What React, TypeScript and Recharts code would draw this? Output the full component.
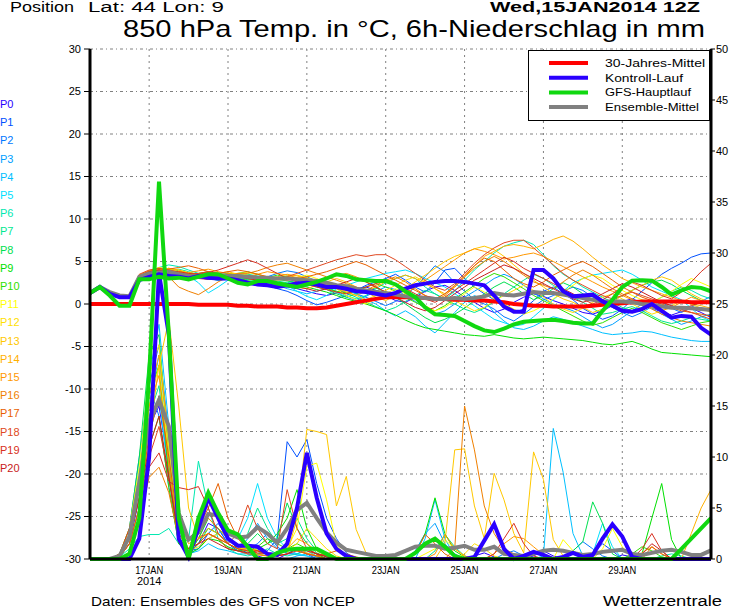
import { LineChart, Line, XAxis, YAxis, CartesianGrid } from "recharts"

const FONT = "'Liberation Sans', Arial, Helvetica, sans-serif"

// forecast hours from 15JAN2014 12Z, 6-hourly
const HOURS = [
  0, 6, 12, 18, 24, 30, 36, 42, 48, 54, 60, 66, 72, 78, 84, 90,
  96, 102, 108, 114, 120, 126, 132, 138, 144, 150, 156, 162, 168, 174, 180, 186,
  192, 198, 204, 210, 216, 222, 228, 234, 240, 246, 252, 258, 264, 270, 276, 282,
  288, 294, 300, 306, 312, 318, 324, 330, 336, 342, 348, 354, 360, 366, 372, 378
]

const DATE_TICKS = [36, 84, 132, 180, 228, 276, 324]
const DATE_LABELS = ["17JAN", "19JAN", "21JAN", "23JAN", "25JAN", "27JAN", "29JAN"]
const TEMP_TICKS = [-30, -25, -20, -15, -10, -5, 0, 5, 10, 15, 20, 25, 30]
const RAIN_TICKS = [0, 5, 10, 15, 20, 25, 30, 35, 40, 45, 50]

const MEMBER_NAMES = [
  "P0", "P1", "P2", "P3", "P4", "P5", "P6", "P7", "P8", "P9", "P10",
  "P11", "P12", "P13", "P14", "P15", "P16", "P17", "P18", "P19", "P20"
]
const MEMBER_COLORS = [
  "#2a00ff", "#0050ff", "#0078ff", "#00a0ff", "#00c0ff", "#00e0ff", "#00e8b0",
  "#00e890", "#00e050", "#00e000", "#30e000", "#ffff00", "#ffe000", "#ffc800",
  "#ffb000", "#ff9800", "#f08000", "#e86000", "#e04820", "#d83020", "#c82020"
]

const LEGEND_NAMES = ["30-Jahres-Mittel", "Kontroll-Lauf", "GFS-Hauptlauf", "Ensemble-Mittel"]
const LEGEND_COLORS = ["#ff0000", "#2a00ff", "#10d810", "#808080"]
const LEGEND_WIDTHS = [100, 78, 86, 94]

// 850 hPa temperature, degC
const climTemp = [
  0, 0, 0, 0, 0, 0, 0, 0, 0, 0, 0, -0.1, -0.1, -0.1, -0.1, -0.2,
  -0.2, -0.3, -0.3, -0.3, -0.4, -0.4, -0.5, -0.5, -0.4, -0.2, 0, 0.2, 0.4, 0.6, 0.8, 0.8,
  0.8, 0.8, 0.7, 0.6, 0.6, 0.5, 0.5, 0.4, 0.4, 0.3, 0.2, 0, -0.1, -0.2, -0.2, -0.3,
  -0.3, -0.3, -0.3, -0.2, -0.1, 0, 0.1, 0.2, 0.3, 0.3, 0.3, 0.3, 0.3, 0.2, 0.2, 0.2
]
const controlTemp = [
  1.3, 2.0, 1.2, 0.8, 0.8, 2.8, 3.2, 3.5, 3.3, 3.2, 3.0, 3.3, 3.1, 3.0, 3.0, 2.8,
  2.5, 2.3, 2.2, 2.0, 2.2, 2.4, 2.5, 2.3, 2.0, 2.0, 1.8, 1.5, 1.4, 1.2, 1.0, 1.3,
  1.8, 2.2, 2.4, 2.6, 2.7, 2.7, 2.6, 2.4, 2.2, 1.0, -0.3, -0.9, -0.9, 4.0, 4.0, 3.0,
  1.5, 0.9, 1.0, 1.1, 0.3, -0.2, -0.8, -0.9, -0.6, 0.0, -0.8, -1.6, -1.4, -1.5, -2.8, -3.6
]
const gfsTemp = [
  1.3, 2.0, 1.0, -0.2, -0.2, 2.9, 2.9, 3.2, 3.0, 3.1, 2.9, 3.2, 3.5, 3.5, 3.0, 2.5,
  2.3, 2.7, 2.7, 2.4, 2.2, 2.0, 2.3, 2.6, 3.0, 3.5, 3.3, 2.9, 2.8, 2.7, 2.7, 2.3,
  1.5, 0.8, -0.4, -1.2, -1.3, -1.4, -2.0, -2.6, -3.1, -3.3, -2.9, -2.4, -2.1, -2.0, -1.9, -1.85,
  -2.0, -2.2, -2.3, -2.3, -0.8, 0.5, 2.0, 2.75, 2.8, 2.75, 2.0, 1.1, 1.6, 2.0, 1.9, 1.5
]
const meanTemp = [
  1.3, 2.0, 1.4, 1.0, 0.9, 3.2, 3.6, 3.7, 3.8, 3.5, 3.3, 3.2, 3.4, 3.4, 3.3, 3.3,
  3.2, 3.1, 3.1, 3.0, 3.0, 2.9, 2.8, 2.7, 2.5, 2.2, 2.1, 1.8, 1.6, 1.4, 1.3, 1.1,
  0.9, 0.8, 0.7, 0.6, 0.6, 0.7, 0.6, 0.7, 0.9, 1.3, 1.1, 1.0, 1.2, 1.4, 1.3, 1.3,
  1.1, 0.9, 0.7, 0.5, 0.3, 0.3, 0.3, 0.2, 0.0, -0.1, -0.3, -0.45, -0.45, -0.5, -0.6, -0.7
]

const tempP0 = [
  1.3, 2.0, 1.2, 0.9, 0.9, 3.0, 3.4, 3.6, 3.5, 3.3, 3.1, 3.2, 3.0, 3.1, 3.0, 2.8,
  2.6, 2.5, 2.4, 2.2, 2.0, 1.8, 1.5, 1.2, 1.0, 1.3, 1.6, 1.8, 2.0, 1.6, 1.0, 0.4,
  0.2, 0.8, 1.5, 2.0, 2.2, 1.6, 0.8, 0.2, -0.5, -1.0, -0.6, 0.2, 0.8, 1.2, 0.9, 0.4,
  0.0, -0.5, -1.0, -1.2, -0.8, -0.2, 0.3, 0.6, 0.2, -0.4, -1.0, -1.3, -0.9, -0.5, -1.0, -1.6
]
const tempP1 = [
  1.3, 2.0, 1.1, 0.8, 0.8, 2.8, 3.3, 3.7, 3.6, 3.4, 3.3, 3.5, 3.3, 3.2, 3.1, 3.0,
  2.7, 2.5, 2.2, 1.8, 1.5, 1.0, 0.4, -0.1, 0.2, 0.6, 1.0, 1.6, 2.2, 2.6, 3.0, 3.5,
  2.8, 2.0, 1.4, 2.5, 4.0, 4.2, 3.0, 2.0, 1.2, 0.5, -0.4, -1.0, -0.6, 0.4, 1.5, 2.0,
  1.2, 0.5, -0.5, -1.2, -1.8, -1.4, -0.6, 0.5, 1.5, 2.5, 3.5, 4.2, 4.8, 5.5, 5.9, 6.0
]
const tempP2 = [
  1.3, 2.0, 1.2, 1.0, 1.0, 3.1, 3.6, 3.9, 3.7, 3.6, 3.4, 3.3, 3.4, 3.5, 3.3, 3.1,
  2.9, 3.0, 3.2, 3.6, 3.9, 3.7, 3.2, 2.7, 2.4, 2.0, 1.6, 1.2, 0.8, 0.3, -0.2, 0.3,
  1.0, 2.0, 3.2, 4.5, 3.8, 2.5, 1.5, 0.5, 0.0, -0.6, -1.5, -2.0, -1.2, -0.3, 0.5, 1.0,
  1.5, 2.0, 1.6, 0.8, 0.2, -0.4, -1.0, -1.5, -1.0, -0.3, 0.2, -0.5, -1.0, -0.4, 0.3, 0.9
]
const tempP3 = [
  1.3, 2.0, 1.3, 1.0, 1.0, 3.2, 3.5, 3.8, 3.9, 3.6, 3.3, 3.1, 2.9, 3.0, 3.2, 3.4,
  3.3, 3.0, 2.8, 2.5, 2.3, 2.6, 2.9, 2.5, 2.0, 1.4, 0.8, 0.4, 0.9, 1.5, 2.0, 1.7,
  1.0, 0.3, -0.5, -1.2, -0.8, 0.0, 0.8, 1.5, 2.2, 3.0, 3.5, 3.0, 2.2, 1.3, 0.6, 0.0,
  -0.4, -0.8, -1.5, -2.2, -2.8, -2.4, -1.6, -0.8, 0.0, -0.5, -1.2, -1.8, -2.4, -2.0, -1.5, -1.2
]
const tempP4 = [
  1.3, 2.0, 1.2, 0.9, 1.0, 3.0, 3.4, 3.5, 3.6, 3.5, 3.4, 3.2, 3.0, 2.8, 2.9, 3.1,
  3.0, 2.8, 2.5, 2.2, 1.8, 1.5, 1.2, 1.5, 1.8, 2.0, 1.7, 1.2, 0.5, 0.0, -0.8, -1.4,
  -0.8, -1.5, -2.6, -3.4, -2.2, -1.0, 0.2, 1.0, 0.4, -1.0, -2.0, -2.8, -3.0, -2.6, -2.0, -1.5,
  -1.8, -2.2, -2.6, -3.0, -3.4, -3.6, -3.5, -3.4, -3.2, -3.3, -3.6, -3.9, -4.1, -4.3, -4.4, -4.4
]
const tempP5 = [
  1.3, 2.0, 1.2, 1.0, 0.9, 3.1, 3.6, 3.9, 3.8, 3.6, 3.3, 2.5, 1.3, 2.0, 2.8, 3.2,
  3.4, 3.2, 3.0, 2.6, 2.2, 1.5, 0.9, 0.5, 1.0, 1.8, 2.2, 2.6, 3.0, 3.3, 3.6, 3.8,
  4.0, 3.6, 3.0, 2.5, 2.0, 1.2, 0.5, -0.2, -1.0, -1.8, -2.2, -2.6, -2.4, -1.5, -0.5, 0.5,
  1.5, 2.5, 3.0, 3.4, 3.6, 3.8, 4.0, 3.5, 2.8, 2.0, 1.5, 1.0, 0.5, -0.5, -1.5, -2.0
]
const tempP6 = [
  1.3, 2.0, 1.3, 1.0, 1.0, 3.2, 3.8, 4.3, 4.6, 4.4, 4.0, 3.6, 3.4, 3.5, 3.3, 3.1,
  2.9, 2.7, 2.9, 3.1, 3.3, 3.0, 2.6, 2.2, 2.0, 1.5, 1.0, 0.6, 1.0, 1.8, 2.5, 3.0,
  3.4, 3.0, 2.0, 1.2, 0.6, 1.5, 2.8, 4.0, 5.0, 6.0, 6.8, 7.2, 7.5, 7.0, 5.8, 4.5,
  3.5, 2.8, 2.0, 1.4, 0.8, 0.2, -0.4, -0.8, -0.4, 0.2, 0.8, 1.5, 2.0, 1.6, 1.0, 0.6
]
const tempP7 = [
  1.3, 2.0, 1.2, 0.9, 0.9, 3.0, 3.5, 3.8, 4.0, 4.1, 3.8, 3.4, 3.0, 2.8, 3.0, 3.4,
  3.5, 3.3, 3.0, 2.7, 2.5, 2.8, 3.0, 2.6, 2.2, 1.8, 1.3, 0.8, 0.2, -0.3, -0.8, -0.4,
  0.3, 1.0, 1.6, 1.2, 0.5, 0.0, -0.6, -1.0, -0.5, 0.3, 1.2, 2.0, 2.8, 3.5, 3.0, 2.2,
  1.5, 0.8, 0.2, -0.5, -1.2, -1.0, -0.6, -0.3, -0.8, -1.4, -2.0, -2.3, -2.0, -1.6, -1.8, -2.0
]
const tempP8 = [
  1.3, 2.0, 1.3, 1.0, 1.0, 3.2, 3.7, 4.0, 4.2, 3.9, 3.6, 3.4, 3.3, 3.2, 3.4, 3.6,
  3.8, 3.5, 3.1, 2.9, 2.7, 2.5, 2.3, 2.0, 1.7, 1.2, 0.8, 1.2, 1.6, 1.9, 1.4, 0.8,
  0.0, -0.8, -1.6, -2.2, -1.8, -1.2, -0.5, 0.4, 1.2, 2.0, 2.6, 2.0, 1.2, 0.5, 1.0, 1.8,
  2.5, 2.0, 1.2, 0.5, 0.0, 0.4, 1.0, 1.6, 2.2, 2.6, 2.8, 2.3, 1.6, 1.0, 0.4, 0.0
]
const tempP9 = [
  1.3, 2.0, 1.2, 1.0, 0.9, 3.0, 3.5, 3.7, 3.6, 3.5, 3.4, 3.3, 3.2, 3.4, 3.6, 3.5,
  3.2, 3.0, 2.8, 2.6, 2.4, 2.2, 2.0, 1.7, 1.4, 1.0, 0.6, 0.3, 0.0, -0.4, -0.8, -1.3,
  -1.9, -2.4, -2.8, -3.0, -3.2, -3.4, -3.6, -3.7, -3.8, -3.6, -3.8, -4.0, -4.1, -4.0, -3.9, -4.0,
  -4.1, -4.2, -4.3, -4.5, -4.7, -4.8, -4.6, -4.4, -4.8, -5.3, -5.7, -5.8, -5.9, -6.0, -6.1, -6.2
]
const tempP10 = [
  1.3, 2.0, 1.3, 1.0, 1.0, 3.3, 3.8, 4.2, 4.0, 3.7, 3.5, 3.6, 3.8, 3.6, 3.3, 3.0,
  2.8, 2.9, 3.1, 3.4, 3.2, 2.9, 2.5, 2.1, 1.8, 1.5, 1.3, 1.6, 2.0, 2.4, 2.0, 1.5,
  0.8, 0.2, -0.4, -0.8, -0.2, 0.6, 1.4, 2.2, 3.0, 3.6, 3.2, 2.5, 1.8, 1.0, 0.4, -0.2,
  -0.8, -1.4, -2.0, -2.5, -2.2, -1.6, -1.0, -0.5, -1.0, -1.6, -2.2, -2.6, -3.0, -2.6, -2.2, -2.0
]
const tempP11 = [
  1.3, 2.0, 1.2, 0.9, 0.9, 3.1, 3.6, 4.0, 4.2, 4.0, 3.7, 3.5, 3.3, 3.4, 3.5, 3.6,
  3.4, 3.2, 3.0, 2.8, 2.9, 3.1, 3.4, 3.0, 2.5, 1.8, 1.0, 0.5, 0.0, 0.6, 1.2, 1.8,
  1.2, 0.5, -0.2, -0.8, -0.4, 0.4, 1.2, 2.0, 1.4, 0.6, 0.0, -0.6, -1.2, -0.8, -0.2, 0.6,
  1.4, 2.2, 3.0, 3.4, 3.0, 2.2, 1.6, 1.0, 0.5, 0.2, 0.8, 1.5, 2.3, 3.0, 2.5, 2.0
]
const tempP12 = [
  1.3, 2.0, 1.3, 1.0, 1.0, 3.4, 3.9, 4.3, 4.1, 3.8, 3.5, 3.2, 3.0, 3.2, 3.4, 3.6,
  3.7, 3.5, 3.2, 3.0, 3.2, 3.4, 3.1, 2.7, 2.3, 1.9, 1.5, 1.0, 0.5, 1.0, 1.6, 2.2,
  2.8, 3.2, 2.6, 1.8, 1.0, 0.4, -0.2, -0.8, -0.4, 0.4, 1.0, 1.6, 2.2, 1.6, 0.8, 0.0,
  -0.6, -1.0, -0.5, 0.2, 0.8, 1.2, 0.6, 0.0, -0.6, -1.2, -0.8, -0.2, 0.4, 0.0, -0.5, -1.0
]
const tempP13 = [
  1.3, 2.0, 1.2, 1.0, 1.0, 3.2, 3.7, 4.0, 3.8, 3.6, 3.4, 3.3, 3.4, 3.6, 3.8, 3.5,
  3.2, 3.0, 2.7, 2.5, 2.3, 2.0, 1.8, 2.2, 2.6, 3.0, 2.6, 2.0, 1.4, 0.8, 0.4, 1.0,
  1.8, 2.6, 3.4, 4.2, 5.0, 5.6, 6.0, 6.5, 6.8, 6.4, 5.6, 4.6, 3.6, 2.8, 2.0, 1.2,
  0.6, 0.2, -0.4, -1.0, -0.6, 0.2, 1.0, 1.6, 2.2, 2.8, 3.2, 2.8, 2.0, 1.2, 0.6, 0.2
]
const tempP14 = [
  1.3, 2.0, 1.3, 1.0, 1.0, 3.0, 3.5, 3.9, 4.2, 4.0, 3.6, 3.4, 3.1, 3.3, 3.5, 3.3,
  3.0, 2.8, 3.0, 3.2, 3.5, 3.3, 3.0, 2.6, 2.2, 1.8, 1.4, 1.0, 1.5, 2.0, 2.6, 3.0,
  3.4, 3.0, 2.4, 1.8, 1.2, 2.0, 3.2, 4.5, 5.6, 6.2, 6.8, 7.0, 6.8, 6.5, 7.0, 7.6,
  8.0, 7.4, 6.5, 5.5, 4.6, 3.8, 3.0, 2.5, 2.0, 1.6, 1.2, 0.8, 0.4, 0.0, -0.2, -0.5
]
const tempP15 = [
  1.3, 2.0, 1.2, 0.9, 0.9, 3.3, 3.8, 4.1, 4.0, 3.8, 3.7, 3.9, 4.1, 3.8, 3.6, 3.4,
  3.2, 3.5, 3.8, 3.6, 3.4, 3.1, 2.8, 2.5, 2.9, 3.3, 3.6, 3.2, 2.6, 2.0, 1.4, 0.8,
  1.2, 2.0, 2.8, 3.6, 4.4, 5.2, 6.0, 6.5, 6.2, 5.8, 5.3, 5.5, 5.8, 6.0, 5.6, 5.0,
  4.4, 3.8, 3.2, 2.6, 2.0, 1.5, 1.0, 0.5, 0.0, -0.4, -0.8, -0.4, 0.2, 0.8, 0.4, 0.0
]
const tempP16 = [
  1.3, 2.0, 1.3, 1.0, 1.0, 3.4, 3.9, 4.0, 3.2, 2.0, 1.5, 1.1, 1.8, 2.6, 3.2, 3.6,
  3.6, 3.9, 4.3, 4.6, 4.8, 4.4, 4.0, 3.6, 3.2, 2.8, 2.4, 2.0, 1.6, 2.2, 2.8, 3.2,
  2.6, 1.8, 1.0, 0.4, 1.0, 2.0, 3.2, 4.2, 5.0, 5.6, 5.0, 4.2, 3.4, 2.6, 2.2, 1.8,
  2.6, 3.4, 4.0, 3.4, 2.6, 1.8, 1.2, 0.6, 0.0, -0.6, -1.2, -1.6, -2.0, -2.2, -2.4, -2.6
]
const tempP17 = [
  1.3, 2.0, 1.2, 1.0, 0.9, 3.1, 3.6, 3.9, 4.1, 4.3, 4.5, 4.2, 3.8, 3.6, 3.8, 4.0,
  3.8, 3.5, 3.2, 3.0, 2.8, 3.0, 3.2, 3.5, 3.8, 4.2, 4.6, 5.0, 4.6, 4.0, 3.4, 2.8,
  2.2, 1.6, 1.0, 0.6, 1.2, 2.2, 3.4, 4.5, 5.4, 5.0, 4.0, 3.0, 2.4, 2.0, 2.6, 3.4,
  4.0, 4.6, 5.0, 4.4, 3.6, 2.8, 2.0, 1.4, 0.8, 0.4, 0.0, -0.4, -0.8, -1.0, -1.2, -1.4
]
const tempP18 = [
  1.3, 2.0, 1.3, 1.0, 1.0, 3.5, 4.0, 4.2, 4.0, 3.7, 3.5, 3.6, 3.8, 3.6, 3.4, 3.3,
  3.1, 2.9, 2.7, 2.9, 3.2, 3.6, 4.0, 4.4, 4.8, 5.2, 5.5, 5.8, 5.6, 5.8, 5.8, 5.2,
  4.4, 3.6, 2.8, 2.0, 1.6, 2.4, 3.6, 4.8, 5.8, 6.6, 7.2, 7.5, 7.5, 6.6, 5.6, 4.6,
  3.6, 2.8, 2.2, 1.6, 1.0, 0.6, 1.0, 1.4, 1.0, 0.6, 0.2, -0.2, -0.6, -1.0, -1.4, -1.8
]
const tempP19 = [
  1.3, 2.0, 1.2, 0.9, 0.9, 3.2, 3.7, 4.0, 3.9, 3.8, 3.6, 3.5, 3.7, 4.0, 4.4, 4.8,
  5.2, 4.8, 4.2, 3.6, 3.0, 2.6, 2.3, 2.0, 1.7, 1.4, 1.2, 1.6, 2.0, 2.4, 2.8, 2.4,
  1.8, 1.2, 0.6, 0.2, 0.8, 1.6, 2.4, 3.2, 4.0, 4.8, 5.5, 5.0, 4.2, 3.6, 3.0, 2.4,
  1.8, 1.2, 0.6, 0.0, 0.5, 1.2, 2.0, 2.6, 2.2, 1.6, 1.0, 0.6, 1.4, 2.6, 3.8, 4.8
]
const tempP20 = [
  1.3, 2.0, 1.3, 1.0, 1.0, 3.3, 3.8, 4.0, 3.7, 3.4, 3.2, 3.0, 2.9, 3.1, 3.3, 3.2,
  3.0, 2.8, 2.6, 2.4, 2.2, 2.0, 1.8, 1.5, 1.8, 2.2, 2.6, 3.0, 2.6, 2.0, 1.4, 0.8,
  0.2, -0.4, -0.8, -0.4, 0.4, 1.2, 2.0, 2.8, 3.4, 4.0, 4.6, 4.2, 3.6, 3.0, 2.4, 1.8,
  1.2, 0.6, 0.2, 0.6, 1.2, 1.8, 2.4, 2.0, 1.4, 0.8, 0.2, -0.2, -0.6, -0.2, 0.2, 0.4
]

// 6h precipitation, mm (right axis)
const controlRain = [
  0, 0, 0, 0, 0, 2, 10, 28, 22, 2, 0.2, 3, 6, 4, 2, 1.3,
  1.3, 1.2, 0.5, 0.4, 1.5, 5, 10.4, 6, 2.5, 1, 0.3, 0, 0, 0, 0, 0,
  0, 0, 0, 0, 0, 0, 0, 0.2, 1.8, 3.4, 1, 0, 0.3, 0.7, 0.4, 0,
  0.2, 0.6, 0.2, 0.4, 2, 3.4, 2.2, 0.2, 0, 0, 0, 0, 0, 0, 0, 0
]
const gfsRain = [
  0, 0, 0, 0, 0.5, 4, 18, 37, 22, 4, 0, 4, 6.5, 4.5, 2.8, 2.4,
  1.2, 0, 0, 0.6, 0.9, 1, 1, 1, 0.5, 0, 0, 0, 0, 0, 0, 0,
  0, 0.6, 1.5, 2, 1.2, 0.3, 0, 0, 0, 0, 0, 0, 0, 0, 0, 0,
  0, 0, 0, 0, 0, 0, 0, 0, 0, 0, 0, 0, 1, 2, 3, 4
]
const meanRain = [
  0, 0, 0, 0.3, 2.2, 7.5, 13.5, 15.6, 13, 4.5, 1.9, 2.6, 4.4, 4.3, 2.5, 2.1,
  2.2, 3.1, 2.5, 1.6, 3, 4.8, 5.5, 4, 2.6, 1.6, 0.9, 0.7, 0.5, 0.3, 0.3, 0.4,
  0.8, 1.2, 1.3, 1.3, 1, 1.1, 1.3, 0.9, 0.9, 1.2, 0.5, 0.4, 0.3, 0.5, 0.8, 0.9,
  0.8, 0.6, 0.4, 0.5, 0.7, 0.8, 0.9, 0.5, 0.4, 0.6, 0.8, 0.9, 0.7, 0.4, 0.4, 0.85
]

const rainP0 = [
  0, 0, 0, 0.2, 1.5, 6, 13, 15, 9, 2, 0.5, 1.5, 3.5, 3, 1.5, 0.8,
  0.5, 0.3, 0, 0, 0.5, 1, 0.5, 0, 0, 0, 0, 0, 0, 0, 0, 0,
  0, 0, 0, 0, 0, 0, 0, 0.3, 0.6, 0.2, 0, 0, 0, 0.3, 0.8, 0.3,
  0, 0, 0, 0, 0, 0, 0.4, 0.2, 0, 0, 0, 0, 0, 0, 0, 0
]
const rainP1 = [
  0, 0, 0, 0.3, 2, 8, 17, 21, 12, 3, 0.8, 1, 2.5, 3.5, 2, 1,
  0.6, 0.5, 0.8, 2, 11.5, 10, 11.7, 7.4, 4, 2, 0.6, 0, 0, 0, 0, 0,
  0, 0, 0, 0, 0, 0, 0, 0, 0, 0, 0, 0, 0, 0, 0, 0,
  0, 0, 0, 0.5, 1.5, 0.8, 0, 0, 0, 0, 0, 0, 0, 0, 0, 0
]
const rainP2 = [
  0, 0, 0, 0.5, 3, 10, 17, 14, 7, 1.5, 0.5, 2, 4, 3, 1.5, 0.8,
  1, 1.5, 2.5, 1.2, 0.5, 0.5, 1, 0.5, 0, 0, 0, 0, 0, 0, 0, 0,
  0, 0, 0, 0, 0, 0, 0, 0, 0, 0, 0.5, 0.8, 0.3, 0, 0, 0,
  0, 0.8, 1.7, 1, 0.3, 0, 0, 0, 0, 0, 0, 0, 0, 0, 0, 0
]
const rainP3 = [
  0, 0, 0, 0.3, 2, 7, 15, 20, 11, 3, 1, 1.5, 2.5, 2, 1, 0.8,
  2, 3.5, 2, 1, 0.6, 0.4, 0.3, 0, 0, 0, 0, 0, 0, 0, 0, 0,
  0, 0.8, 2.5, 3.5, 1.5, 0.5, 0, 0, 0, 0, 0, 0, 0, 0, 0, 0,
  0, 0, 0, 0, 0, 0, 0, 0, 0, 0, 0, 0, 0, 0, 0, 0
]
const rainP4 = [
  0, 0, 0, 0.3, 2.5, 9, 18, 23, 13, 2, 0.5, 0.8, 1.5, 1, 0.8, 0.5,
  0.5, 0.5, 0.3, 0, 0, 0.3, 0.5, 0.2, 0, 0, 0, 0, 0, 0, 0, 0,
  0, 0, 2, 5.8, 2, 0.3, 0, 0, 0, 0, 0, 0, 0, 0, 0.3, 12.8,
  8.5, 2.5, 0.3, 0, 0, 0, 0, 0, 0, 0, 0, 0, 0, 0, 0, 0
]
const rainP5 = [
  0, 0, 0, 0.2, 1.5, 5, 12, 16, 8, 2, 0.5, 1, 2, 2.5, 3, 2,
  4, 7.4, 4, 2, 1, 0.5, 0.3, 0, 0, 0, 0, 0, 0, 0, 0, 0,
  0, 0, 0, 0, 0, 0, 0, 0, 0, 0, 0, 0, 0, 0, 0, 0,
  0, 0, 0, 0.5, 3.5, 1.2, 0, 0, 0, 0, 0, 0, 0, 0, 0, 0
]
const rainP6 = [
  0, 0, 0, 0.2, 1, 2.2, 2.4, 2.4, 3, 1.5, 1.9, 9.6, 5, 2, 1, 0.5,
  0.3, 0.5, 1, 0.5, 0.3, 0.5, 0.8, 0.3, 0, 0, 0, 0, 0, 0, 0, 0,
  0, 0, 0, 0, 0, 0, 0, 0, 0, 0, 0, 0, 0, 0, 0, 0,
  0, 0, 0, 0, 0, 0, 0, 0, 0, 0, 0.3, 0.5, 0.3, 0, 0, 0
]
const rainP7 = [
  0, 0, 0, 0.3, 2, 7, 14, 17, 9, 2, 1, 2, 3, 2.5, 1.5, 1,
  2.5, 5, 3, 1.5, 2, 4, 2, 0.8, 0.3, 0, 0, 0, 0, 0, 0, 0,
  0, 0, 0, 0.8, 2.4, 1.2, 0.3, 0, 0, 0, 0, 0, 0, 0, 0, 0,
  0, 0, 0, 0, 0, 0, 0, 0, 0, 0, 0, 0, 0, 0, 0, 0
]
const rainP8 = [
  0, 0, 0, 0.5, 3, 10, 20, 22, 10, 2, 0.5, 1.5, 3, 2.5, 1.5, 1,
  1.5, 2.5, 1.5, 2, 5.5, 3, 1.5, 0.6, 0.2, 0, 0, 0, 0, 0, 0, 0,
  0, 0, 0, 0, 0, 0, 0, 0, 0, 0, 0, 0, 0, 0, 0, 0,
  0, 0.8, 1.7, 5.6, 3.5, 0.5, 0, 0, 0, 0, 0, 0, 0, 0, 0, 0
]
const rainP9 = [
  0, 0, 0, 0.3, 2, 8, 16, 19, 8, 1.5, 0.5, 1, 2, 1.8, 1.2, 0.8,
  0.8, 1, 1.5, 2.5, 4, 6.8, 3, 1, 0.3, 0, 0, 0, 0, 0, 0, 0,
  0, 0.5, 2.5, 6, 2.5, 0.8, 0.2, 0, 0, 0, 0, 0, 0, 0, 0, 0,
  0, 0, 0, 0, 0, 0, 0, 0, 0.5, 4, 7.4, 1.9, 0, 0, 0, 0
]
const rainP10 = [
  0, 0, 0, 0.2, 1.5, 5, 11, 14, 7, 1.5, 0.5, 2, 4, 3, 2, 1,
  0.8, 1.2, 2, 1.5, 1, 1.5, 1, 0.5, 0, 0, 0, 0, 0, 0, 0, 0,
  0, 0, 0, 0, 0, 0, 0, 0, 0, 0, 0, 0, 0, 0, 0, 0,
  0, 0, 0, 0, 0, 0, 0, 0.5, 1.2, 0.8, 0.2, 0, 0, 0, 0, 0
]
const rainP11 = [
  0, 0, 0, 0.5, 3, 9, 18, 21, 11, 3, 1, 1.5, 2.5, 2, 1.5, 1,
  1, 0.8, 0.5, 0.3, 1, 3, 9.1, 9.4, 5.8, 1.4, 0.3, 0, 0, 0, 0, 0,
  0, 0, 0.5, 1, 1.9, 1, 0.3, 0, 0, 0, 0, 0, 0, 0, 0, 0,
  1.9, 0.8, 0.3, 0, 1, 3, 1.2, 0, 0, 0, 0, 0, 0, 0, 0, 0
]
const rainP12 = [
  0, 0, 0, 0.3, 2, 7, 15, 19, 10, 2.5, 0.8, 1.2, 2, 2.5, 1.5, 1,
  0.8, 1, 0.6, 0.4, 0.8, 1.5, 3, 2, 1, 0.3, 0, 0, 0, 0, 0, 0,
  0, 0, 0, 0, 0, 0, 0.5, 1.5, 1, 0.3, 0, 0, 0, 0, 0, 0,
  0, 0, 0, 0, 0, 0, 0, 0, 0, 0, 0, 0, 0, 0, 0, 0
]
const rainP13 = [
  0, 0, 0, 0.2, 1.5, 5, 12, 19, 23.5, 15, 5, 2, 2.5, 2, 1.5, 1,
  1, 0.8, 0.5, 0.3, 0.5, 4, 12.7, 12.5, 12.2, 5.2, 8.1, 2.9, 0.6, 0, 0, 0,
  0, 0, 0, 0, 1.5, 10.7, 10.8, 5.2, 2, 8.4, 5.8, 2.5, 0.6, 10.5, 7.8, 1.9,
  0.3, 0, 0, 0, 0, 0, 0, 0, 0, 0, 0, 0, 0, 0, 0, 0
]
const rainP14 = [
  0, 0, 0, 0.3, 2, 8, 16, 20, 12, 4, 1.5, 2, 3, 2.5, 1.5, 1,
  0.8, 0.5, 0.3, 0.5, 1, 2, 1.5, 0.8, 0.3, 0, 0, 0, 0, 0, 0, 0,
  0, 0, 0, 0, 0, 0, 0, 0, 0, 0, 0, 0, 0, 0, 0, 0,
  0, 0, 0, 0, 0, 0, 0, 0, 0, 0, 0, 0, 0, 2.5, 5, 6.8
]
const rainP15 = [
  0, 0, 0, 0.3, 2.5, 8, 15, 18, 9, 2, 1, 2.5, 4, 3, 2, 1.2,
  1, 0.8, 0.6, 0.5, 0.8, 1, 0.6, 0.3, 0, 0, 0, 0, 0, 0, 0, 0,
  0, 0, 0, 0.5, 2.4, 1, 0.3, 0, 0, 0.5, 1.5, 2.2, 2, 1.2, 0.4, 0,
  0, 0, 0, 0, 0, 0, 0, 0, 0.6, 1.2, 0.5, 0, 0, 0, 0, 0
]
const rainP16 = [
  0, 0, 0, 0.2, 1.5, 4, 8, 9, 6.5, 2, 1, 2, 2.5, 2, 1, 0.8,
  0.5, 0.4, 0.3, 0.5, 1, 0.8, 0.5, 0.3, 0, 0, 0, 0, 0, 0, 0, 0,
  0, 0, 0, 0, 0, 1, 15, 10.7, 5.2, 2.5, 1, 0.5, 0, 0, 0, 0,
  0, 0, 0, 0, 0, 0, 0, 0, 0, 0, 0, 0, 0, 0, 0, 0
]
const rainP17 = [
  0, 0, 0, 0.3, 2, 6, 12, 16, 10, 3, 2, 3, 5, 7.4, 4, 2,
  1, 0.8, 0.5, 0.5, 1, 0.8, 0.5, 0.3, 0.5, 0.8, 0.5, 0.2, 0, 0, 0, 0,
  0, 0.5, 2.4, 1.5, 0.5, 0, 0, 0, 0, 0, 0, 0, 0, 0, 0, 0,
  0, 0, 0, 0, 0, 0, 0, 0, 0, 1.2, 0.5, 0, 0, 0, 0, 0
]
const rainP18 = [
  0, 0, 0, 0.2, 1.5, 5, 10, 13, 8, 2.5, 1, 1.5, 2.5, 2, 1.5, 2.5,
  5.3, 3, 1.5, 1, 6.8, 3, 1, 0.5, 0.3, 0, 0, 0, 0, 0, 0, 0,
  0, 0, 0, 0, 0, 0, 0, 0, 0, 0, 0, 0, 0, 0, 0, 0,
  0, 0, 0, 0, 0, 0, 0, 0, 0, 0, 0, 0, 0, 0, 0, 0
]
const rainP19 = [
  0, 0, 0, 0.5, 3, 7, 9, 10.4, 7.6, 7, 6.8, 7.1, 5, 2.5, 1.5, 1,
  0.8, 0.6, 0.5, 0.3, 0.5, 0.8, 1, 0.5, 0.3, 0, 0, 0, 0, 0, 0, 0,
  0, 0, 0, 0, 0, 0, 0, 0, 0, 0.5, 2, 3.5, 1.5, 0.3, 0, 0,
  0, 0, 0, 0, 0, 0, 0, 0, 1, 2.5, 0.8, 0, 0, 0, 0, 0
]
const rainP20 = [
  0, 0, 0, 0.3, 2, 6, 11, 14, 8, 2, 1, 1.5, 2, 1.5, 1, 0.8,
  0.6, 0.8, 0.5, 0.3, 0.5, 1, 0.8, 0.5, 0.2, 0, 0, 0, 0, 0, 0, 0,
  0, 0, 0, 0, 0, 0, 0, 0, 0, 0, 0, 0, 0, 0, 0, 0,
  0, 0, 0, 0, 0, 0, 0, 0, 0.5, 1.5, 0.8, 0, 0, 0, 0, 0
]

const MEMBER_TEMPS = [
  tempP0, tempP1, tempP2, tempP3, tempP4, tempP5, tempP6, tempP7, tempP8, tempP9, tempP10,
  tempP11, tempP12, tempP13, tempP14, tempP15, tempP16, tempP17, tempP18, tempP19, tempP20
]
const MEMBER_RAIN = [
  rainP0, rainP1, rainP2, rainP3, rainP4, rainP5, rainP6, rainP7, rainP8, rainP9, rainP10,
  rainP11, rainP12, rainP13, rainP14, rainP15, rainP16, rainP17, rainP18, rainP19, rainP20
]

const rows = HOURS.map((h, i) => {
  const row: Record<string, number> = { h }
  MEMBER_TEMPS.forEach((s, m) => { row["t" + m] = s[i] })
  MEMBER_RAIN.forEach((s, m) => { row["r" + m] = s[i] })
  row.clim = climTemp[i]
  row.ctl = controlTemp[i]
  row.gfs = gfsTemp[i]
  row.mean = meanTemp[i]
  row.ctlR = controlRain[i]
  row.gfsR = gfsRain[i]
  row.meanR = meanRain[i]
  return row
})

function DateTick(props: any) {
  const { x, y, payload } = props
  const label = DATE_LABELS[DATE_TICKS.indexOf(payload.value)]
  return (
    <g fontFamily={FONT} fontSize={11} fill="#000">
      <text x={x} y={y + 15} textAnchor="middle" textLength={28} lengthAdjust="spacingAndGlyphs">{label}</text>
      {payload.value === DATE_TICKS[0] && (
        <text x={x} y={y + 26} textAnchor="middle">2014</text>
      )}
    </g>
  )
}

const thick = { stroke: "#000", strokeWidth: 3 }

export default function App() {
  return (
    <div style={{ position: "absolute", left: 0, top: 0, width: 730, height: 609, background: "#fff" }}>
      <LineChart width={730} height={609} data={rows} margin={{ top: 49, right: 0, bottom: 20, left: 50 }}>
        <CartesianGrid vertical={false} stroke="#808080" strokeDasharray="3 3 1 3" />
        <CartesianGrid horizontal={false} stroke="#808080" strokeDasharray="2 4" />
        <XAxis
          dataKey="h"
          type="number"
          domain={[0, 378]}
          ticks={DATE_TICKS}
          interval={0}
          tick={<DateTick />}
          tickLine={false}
          tickSize={0}
          tickMargin={0}
          axisLine={thick}
          height={30}
        />
        <XAxis
          xAxisId="top"
          orientation="top"
          dataKey="h"
          type="number"
          domain={[0, 378]}
          tick={false}
          tickLine={false}
          axisLine={thick}
          height={0}
        />
        <YAxis
          type="number"
          domain={[-30, 30]}
          ticks={TEMP_TICKS}
          interval={0}
          width={40}
          tickSize={6}
          tickMargin={3}
          axisLine={thick}
          tickLine={{ stroke: "#000" }}
          tick={{ fill: "#000", fontSize: 11, fontFamily: FONT }}
        />
        <YAxis
          yAxisId="r"
          orientation="right"
          type="number"
          domain={[0, 50]}
          ticks={RAIN_TICKS}
          interval={0}
          width={19}
          tickSize={4}
          tickMargin={1}
          axisLine={thick}
          tickLine={{ stroke: "#000" }}
          tick={{ fill: "#000", fontSize: 11, fontFamily: FONT, textAnchor: "start" }}
        />
        {MEMBER_RAIN.map((_, m) => (
          <Line key={"r" + m} yAxisId="r" type="linear" dataKey={"r" + m} stroke={MEMBER_COLORS[m]}
            strokeWidth={1} dot={false} activeDot={false} isAnimationActive={false} />
        ))}
        {MEMBER_TEMPS.map((_, m) => (
          <Line key={"t" + m} type="linear" dataKey={"t" + m} stroke={MEMBER_COLORS[m]}
            strokeWidth={1} dot={false} activeDot={false} isAnimationActive={false} />
        ))}
        <Line type="linear" dataKey="clim" stroke={LEGEND_COLORS[0]} strokeWidth={4} dot={false} activeDot={false} isAnimationActive={false} />
        <Line yAxisId="r" type="linear" dataKey="meanR" stroke={LEGEND_COLORS[3]} strokeWidth={4} dot={false} activeDot={false} isAnimationActive={false} />
        <Line type="linear" dataKey="mean" stroke={LEGEND_COLORS[3]} strokeWidth={4} dot={false} activeDot={false} isAnimationActive={false} />
        <Line yAxisId="r" type="linear" dataKey="ctlR" stroke={LEGEND_COLORS[1]} strokeWidth={4} dot={false} activeDot={false} isAnimationActive={false} />
        <Line type="linear" dataKey="ctl" stroke={LEGEND_COLORS[1]} strokeWidth={4} dot={false} activeDot={false} isAnimationActive={false} />
        <Line yAxisId="r" type="linear" dataKey="gfsR" stroke={LEGEND_COLORS[2]} strokeWidth={4} dot={false} activeDot={false} isAnimationActive={false} />
        <Line type="linear" dataKey="gfs" stroke={LEGEND_COLORS[2]} strokeWidth={4} dot={false} activeDot={false} isAnimationActive={false} />
      </LineChart>

      <svg width={730} height={609} style={{ position: "absolute", left: 0, top: 0, pointerEvents: "none" }}
        fontFamily={FONT}>
        <text x={10} y={12} fontSize={14} textLength={64} lengthAdjust="spacingAndGlyphs">Position</text>
        <text x={88} y={12} fontSize={14} textLength={136} lengthAdjust="spacingAndGlyphs">Lat: 44 Lon: 9</text>
        <text x={490} y={12} fontSize={14} fontWeight="bold" textLength={210} lengthAdjust="spacingAndGlyphs">Wed,15JAN2014 12Z</text>
        <text x={123} y={37} fontSize={24} textLength={582} lengthAdjust="spacingAndGlyphs">850 hPa Temp. in °C, 6h-Niederschlag in mm</text>

        {MEMBER_NAMES.map((name, m) => (
          <text key={name} x={0} y={108 + m * 18.2} fontSize={11} fill={MEMBER_COLORS[m]}>{name}</text>
        ))}

        <rect x={528.5} y={50.5} width={181} height={70} fill="#fff" stroke="#000" strokeWidth={1} />
        {LEGEND_NAMES.map((name, k) => (
          <g key={name}>
            <line x1={549} x2={588} y1={63 + k * 14.7} y2={63 + k * 14.7} stroke={LEGEND_COLORS[k]} strokeWidth={4} />
            <text x={605} y={67 + k * 14.7} fontSize={11} textLength={LEGEND_WIDTHS[k]} lengthAdjust="spacingAndGlyphs">{name}</text>
          </g>
        ))}

        <text x={91} y={606} fontSize={13} textLength={264} lengthAdjust="spacingAndGlyphs">Daten: Ensembles des GFS von NCEP</text>
        <text x={603} y={606} fontSize={14} textLength={119} lengthAdjust="spacingAndGlyphs">Wetterzentrale</text>
      </svg>
    </div>
  )
}
